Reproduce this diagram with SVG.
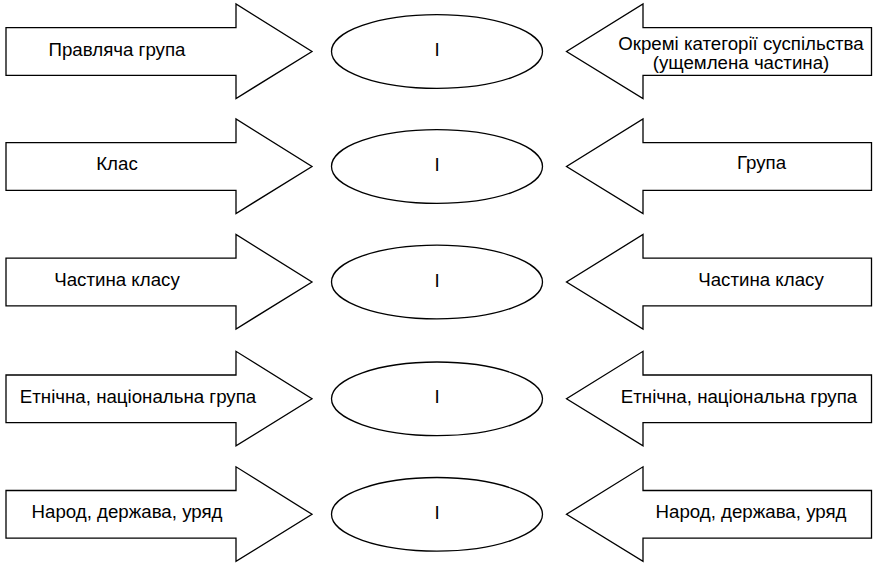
<svg xmlns="http://www.w3.org/2000/svg" width="873" height="564" viewBox="0 0 873 564">
<style>
.s{fill:#fff;stroke:#000;stroke-width:1.3;stroke-linejoin:miter}
.t{font-family:"Liberation Sans",Arial,sans-serif;font-size:18.7px;fill:#000;text-anchor:middle}
</style>
<defs>
<path id="la" class="s" d="M6,-23.8 H236 V-47.5 L312,0 L236,47 V23.8 H6 Z"/>
<path id="ra" class="s" d="M871.5,-23.8 H643 V-47.5 L566.5,0 L643,47 V23.8 H871.5 Z"/>
<ellipse id="el" class="s" cx="437" cy="0" rx="105.5" ry="36.8"/>
</defs>
<g id="connectors"></g>
<g id="row1" transform="translate(0,51.5)">
<g id="left1"><use href="#la"/><text class="t" x="117" y="4">Правляча група</text></g>
<g id="center1"><use href="#el"/><text class="t" x="437" y="4.5">I</text></g>
<g id="right1"><use href="#ra"/><text class="t" x="741" y="-2">Окремі категорії суспільства</text><text class="t" x="741" y="17">(ущемлена частина)</text></g>
</g>
<g id="row2" transform="translate(0,166.5)">
<g id="left2"><use href="#la"/><text class="t" x="117" y="3.5">Клас</text></g>
<g id="center2"><use href="#el"/><text class="t" x="437" y="4.5">I</text></g>
<g id="right2"><use href="#ra"/><text class="t" x="761.5" y="2.5">Група</text></g>
</g>
<g id="row3" transform="translate(0,282)">
<g id="left3"><use href="#la"/><text class="t" x="117" y="4">Частина класу</text></g>
<g id="center3"><use href="#el"/><text class="t" x="437" y="4.5">I</text></g>
<g id="right3"><use href="#ra"/><text class="t" x="761" y="4">Частина класу</text></g>
</g>
<g id="row4" transform="translate(0,398.8)">
<g id="left4"><use href="#la"/><text class="t" x="138" y="4">Етнічна, національна група</text></g>
<g id="center4"><use href="#el"/><text class="t" x="437" y="4.5">I</text></g>
<g id="right4"><use href="#ra"/><text class="t" x="739" y="4">Етнічна, національна група</text></g>
</g>
<g id="row5" transform="translate(0,514.3)">
<g id="left5"><use href="#la"/><text class="t" x="127" y="4">Народ, держава, уряд</text></g>
<g id="center5"><use href="#el"/><text class="t" x="437" y="4.5">I</text></g>
<g id="right5"><use href="#ra"/><text class="t" x="751" y="4">Народ, держава, уряд</text></g>
</g>
</svg>
